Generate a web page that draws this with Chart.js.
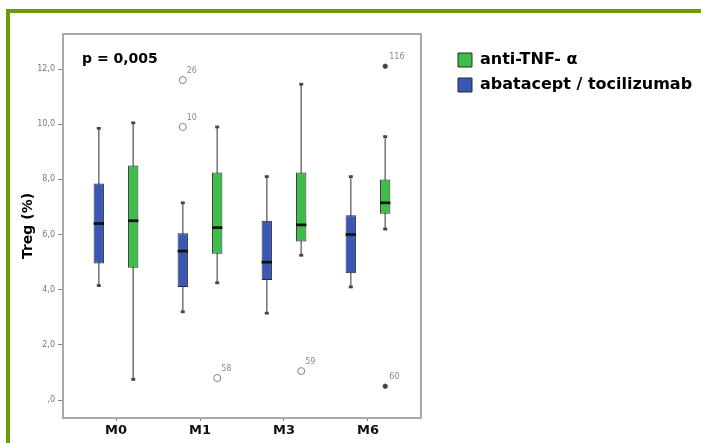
<!DOCTYPE html>
<html>
<head>
<meta charset="utf-8">
<script src="https://cdn.jsdelivr.net/npm/chart.js@4.4.1/dist/chart.umd.min.js"></script>
<style>
  html, body { margin: 0; padding: 0; background: #fff; }
  .wrap { position: relative; width: 701px; height: 443px; overflow: hidden; }
  .frame { position: absolute; left: 6px; top: 9px; right: -10px; bottom: -10px;
           border-top: 4px solid #6a9b0a; border-left: 4px solid #6a9b0a; pointer-events: none; }
  canvas { position: absolute; left: 0; top: 0; }
</style>
</head>
<body>
<div class="wrap">
  <canvas id="treg" width="701" height="443"></canvas>
  <div class="frame"></div>
</div>
<script>
/* ---------- Data ---------- */
const CATS = ["M0", "M1", "M3", "M6"];
const Y_TICKS = [0, 2, 4, 6, 8, 10, 12];

// abatacept / tocilizumab (blue)
const ABA_LOW  = [4.15, 3.2, 3.15, 4.1];
const ABA_Q1   = [4.95, 4.1, 4.35, 4.6];
const ABA_MED  = [6.4, 5.4, 5.0, 6.0];
const ABA_Q3   = [7.85, 6.05, 6.5, 6.7];
const ABA_HIGH = [9.85, 7.15, 8.1, 8.1];

// anti-TNF-α (green)
const TNF_LOW  = [0.75, 4.25, 5.25, 6.2];
const TNF_Q1   = [4.8, 5.3, 5.75, 6.75];
const TNF_MED  = [6.5, 6.25, 6.35, 7.15];
const TNF_Q3   = [8.5, 8.25, 8.25, 8.0];
const TNF_HIGH = [10.05, 9.9, 11.45, 9.55];

// outliers: category index, value, case number, extreme (*) or not (o)
const ABA_OUT_CAT = [1, 1];
const ABA_OUT_VAL = [11.6, 9.9];
const ABA_OUT_ID  = ["26", "10"];
const ABA_OUT_EXT = [false, false];
const TNF_OUT_CAT = [1, 2, 3, 3];
const TNF_OUT_VAL = [0.8, 1.05, 12.1, 0.5];
const TNF_OUT_ID  = ["58", "59", "116", "60"];
const TNF_OUT_EXT = [false, false, true, true];

/* ---------- Layout helpers ---------- */
const CAT_PCT = 0.82;
const BAR_PCT = 0.3;
const HALF_SLOT = CAT_PCT / 4;   // offset of each box from the group centre
const MARK = 0.05;               // half height of median line / whisker caps

Chart.defaults.font.family = "DejaVu Sans";

const series = [
  { key: "b", label: "abatacept / tocilizumab", color: "#3b57b5", side: -1,
    low: ABA_LOW, q1: ABA_Q1, med: ABA_MED, q3: ABA_Q3, high: ABA_HIGH,
    oCat: ABA_OUT_CAT, oVal: ABA_OUT_VAL, oId: ABA_OUT_ID, oExt: ABA_OUT_EXT },
  { key: "g", label: "anti-TNF- α", color: "#3dbd4c", side: 1,
    low: TNF_LOW, q1: TNF_Q1, med: TNF_MED, q3: TNF_Q3, high: TNF_HIGH,
    oCat: TNF_OUT_CAT, oVal: TNF_OUT_VAL, oId: TNF_OUT_ID, oExt: TNF_OUT_EXT }
];

const datasets = [];
// boxes (first two datasets -> legend)
series.forEach(s => datasets.push({
  label: s.label, stack: s.key, order: 4,
  data: CATS.map((c, i) => ({ x: i, y: [s.q1[i], s.q3[i]] })),
  backgroundColor: s.color, borderColor: "#2b2b2b", borderWidth: 1, borderSkipped: false,
  categoryPercentage: CAT_PCT, barPercentage: BAR_PCT
}));
// whiskers
series.forEach(s => datasets.push({
  label: "whisker", stack: s.key, order: 5,
  data: CATS.map((c, i) => ({ x: i, y: [s.low[i], s.high[i]] })),
  backgroundColor: "#7a7a7a", borderWidth: 0,
  categoryPercentage: CAT_PCT, barPercentage: BAR_PCT, maxBarThickness: 1.6
}));
// whisker caps
series.forEach(s => datasets.push({
  label: "cap", stack: s.key, order: 2,
  data: CATS.flatMap((c, i) => [
    { x: i, y: [s.low[i] - MARK, s.low[i] + MARK] },
    { x: i, y: [s.high[i] - MARK, s.high[i] + MARK] }
  ]),
  backgroundColor: "#444", borderWidth: 0,
  categoryPercentage: CAT_PCT, barPercentage: BAR_PCT, maxBarThickness: 4
}));
// medians
series.forEach(s => datasets.push({
  label: "median", stack: s.key, order: 3,
  data: CATS.map((c, i) => ({ x: i, y: [s.med[i] - MARK, s.med[i] + MARK] })),
  backgroundColor: "#111", borderWidth: 0,
  categoryPercentage: CAT_PCT, barPercentage: BAR_PCT
}));
// outliers
series.forEach(s => datasets.push({
  type: "scatter", label: "outlier", order: 1,
  data: s.oCat.map((c, i) => ({ x: c + s.side * HALF_SLOT, y: s.oVal[i] })),
  caseIds: s.oId,
  pointStyle: s.oExt.map(e => e ? "star" : "circle"),
  pointRadius: s.oExt.map(e => e ? 2.5 : 3.5),
  pointBorderWidth: s.oExt.map(e => e ? 2 : 1),
  pointBorderColor: s.oExt.map(e => e ? "#444" : "#808080"),
  pointBackgroundColor: s.oExt.map(e => e ? "#444" : "rgba(0,0,0,0)")
}));

/* ---------- Plugins: case numbers and p-value ---------- */
const caseLabels = {
  id: "caseLabels",
  afterDatasetsDraw(chart) {
    const { ctx } = chart;
    ctx.save();
    ctx.font = "8px 'DejaVu Sans'";
    ctx.fillStyle = "#8a8a8a";
    ctx.textBaseline = "middle";
    chart.data.datasets.forEach((ds, di) => {
      if (!ds.caseIds) return;
      chart.getDatasetMeta(di).data.forEach((pt, i) => {
        ctx.fillText(ds.caseIds[i], pt.x + 4, pt.y - 9);
      });
    });
    ctx.restore();
  }
};

const pValue = {
  id: "pValue",
  afterDraw(chart) {
    const { ctx, chartArea } = chart;
    ctx.save();
    ctx.font = "bold 14px 'DejaVu Sans'";
    ctx.fillStyle = "#000";
    ctx.textBaseline = "middle";
    ctx.fillText("p = 0,005", chartArea.left + 19, chartArea.top + 25);
    ctx.restore();
  }
};

const frameBorder = { display: true, color: "#a8a8a8", width: 2 };

/* ---------- Chart ---------- */
new Chart(document.getElementById("treg"), {
  type: "bar",
  data: { datasets },
  options: {
    responsive: false,
    animation: false,
    events: [],
    layout: { padding: { top: 34, left: 0, right: 0, bottom: 0 } },
    plugins: {
      tooltip: { enabled: false },
      legend: {
        position: "right",
        align: "start",
        maxWidth: 252,
        title: { display: true, text: "", font: { size: 1, lineHeight: 1 }, padding: { top: 8, bottom: 0 } },
        labels: {
          boxWidth: 14, boxHeight: 14, padding: 9, color: "#000",
          font: { family: "DejaVu Sans", size: 16, weight: "bold" },
          filter: (item) => item.datasetIndex < 2,
          sort: (a, b) => b.datasetIndex - a.datasetIndex
        }
      }
    },
    scales: {
      x: {
        type: "linear", min: -0.631, max: 3.631, offset: false,
        grid: { display: true, drawOnChartArea: false, offset: false, tickLength: 3, color: "#888" },
        border: frameBorder,
        ticks: { padding: 2, color: "#111", font: { size: 13, weight: "bold" }, callback: v => CATS[v] },
        afterBuildTicks: s => { s.ticks = CATS.map((c, i) => ({ value: i })); },
        afterFit: s => { s.height = 25; }
      },
      x2: {
        type: "linear", position: "top", offset: false,
        grid: { display: false }, ticks: { display: false }, border: frameBorder,
        afterFit: s => { s.height = 0; }
      },
      y: {
        min: -0.65, max: 13.27, stacked: false,
        grid: { display: true, drawOnChartArea: false, tickLength: 5, color: "#888" },
        border: frameBorder,
        ticks: {
          padding: 3, color: "#777", font: { size: 8 },
          callback: v => v === 0 ? ",0" : v.toFixed(1).replace(".", ",")
        },
        afterBuildTicks: s => { s.ticks = Y_TICKS.map(v => ({ value: v })); },
        title: {
          display: true, text: "Treg (%)", color: "#000",
          font: { size: 14, weight: "bold" }, padding: { top: 20, bottom: 0 }
        },
        afterFit: s => { s.width = 63; }
      },
      y2: {
        type: "linear", position: "right",
        grid: { display: false }, ticks: { display: false }, border: frameBorder,
        afterFit: s => { s.width = 28; }
      }
    }
  },
  plugins: [caseLabels, pValue]
});
</script>
</body>
</html>
